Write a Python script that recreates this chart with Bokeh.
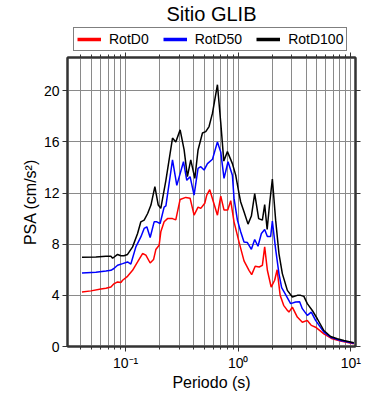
from bokeh.plotting import figure
from bokeh.layouts import column
from bokeh.models import (Range1d, LogAxis, LinearAxis, FixedTicker, CustomJSTickFormatter,
                          Legend, LegendItem)
from bokeh.embed import file_html
from bokeh.resources import INLINE

# ---- data ----
periods_d100 = [0.0410, 0.0545, 0.0669, 0.0741, 0.0767, 0.0849, 0.0908, 0.0966, 0.1041, 0.1154,
                0.1278, 0.1366, 0.1462, 0.157, 0.168, 0.182, 0.195, 0.2055, 0.228, 0.261,
                0.279, 0.305, 0.331, 0.354, 0.379, 0.412, 0.440, 0.4815, 0.515, 0.551,
                0.591, 0.654, 0.700, 0.745, 0.802, 0.888, 0.950, 1.016, 1.052, 1.126,
                1.222, 1.309, 1.401, 1.519, 1.639, 1.718, 1.807, 1.902, 2.010, 2.150,
                2.300, 2.465, 2.731, 3.024, 3.348, 3.582, 3.831, 4.107, 4.548, 5.037,
                5.763, 6.607, 7.575, 8.669, 10.63]
rotd100 = [6.98, 7.00, 7.05, 7.05, 6.90, 7.20, 7.10, 7.10, 7.20, 7.79,
           8.84, 9.75, 9.88, 10.4, 11.06, 12.5, 11.06, 10.8, 13.0, 16.3,
           16.0, 16.94, 15.37, 13.28, 14.6, 13.15, 15.37, 16.7, 16.8, 17.2,
           18.25, 20.47, 17.5, 14.5, 15.24, 14.3, 13.4, 11.98, 11.3, 10.53,
           9.57, 10.2, 11.95, 10.0, 9.88, 11.1, 9.15, 11.2, 13.1, 9.88,
           7.27, 5.7, 4.39, 3.87, 4.0, 4.0, 3.92, 3.35, 2.82, 2.17,
           1.25, 0.78, 0.6, 0.47, 0.29]

periods_d50 = [0.0410, 0.0545, 0.0669, 0.0741, 0.0788, 0.0849, 0.0941, 0.1041, 0.1114, 0.1234,
               0.1366, 0.1462, 0.1544, 0.1653, 0.1793, 0.1894, 0.2026, 0.2199, 0.228, 0.261,
               0.285, 0.3267, 0.3494, 0.3738, 0.4057, 0.440, 0.4652, 0.4976, 0.5333, 0.591,
               0.654, 0.700, 0.7483, 0.8121, 0.888, 0.918, 0.984, 1.052, 1.126, 1.207,
               1.309, 1.401, 1.498, 1.606, 1.718, 1.815, 1.941, 2.010, 2.150, 2.300,
               2.430, 2.584, 2.920, 3.234, 3.510, 3.709, 4.107, 4.456, 4.865, 5.763,
               6.607, 8.105, 10.63]
rotd50 = [5.75, 5.80, 5.90, 5.96, 6.10, 6.35, 6.48, 6.61, 6.45, 7.79,
          8.57, 9.23, 9.36, 8.52, 9.75, 9.75, 9.62, 10.9, 11.0, 14.6,
          12.6, 14.45, 13.0, 13.28, 11.84, 13.93, 14.06, 13.8, 14.3, 14.64,
          16.0, 15.2, 13.15, 14.45, 13.4, 11.58, 9.88, 8.97, 8.18, 8.13,
          7.6, 8.37, 7.84, 8.84, 9.15, 8.6, 8.6, 9.8, 7.6, 5.7,
          4.6, 4.2, 3.35, 3.48, 3.5, 2.96, 2.43, 2.69, 2.04, 1.12,
          0.73, 0.47, 0.26]

periods_d0 = [0.0410, 0.0493, 0.0604, 0.0669, 0.0741, 0.0788, 0.0849, 0.0908, 0.0941, 0.1041,
              0.1154, 0.1278, 0.1415, 0.1514, 0.1653, 0.1771, 0.1856, 0.1986, 0.2055, 0.2199,
              0.2357, 0.261, 0.279, 0.305, 0.3424, 0.3738, 0.4057, 0.440, 0.4652, 0.5047,
              0.5256, 0.5588, 0.6027, 0.654, 0.700, 0.7483, 0.807, 0.858, 0.918, 1.016,
              1.126, 1.247, 1.317, 1.415, 1.535, 1.639, 1.718, 1.815, 1.961, 2.107,
              2.216, 2.357, 2.532, 2.692, 2.821, 3.024, 3.348, 3.709, 4.107, 4.456,
              4.865, 5.763, 6.842, 8.105, 10.63]
rotd0 = [4.26, 4.35, 4.50, 4.55, 4.65, 4.90, 5.05, 5.00, 5.18, 5.49,
         5.96, 6.61, 7.27, 7.14, 6.53, 6.8, 7.58, 7.92, 8.97, 9.75,
         10.0, 10.0, 9.9, 11.5, 11.66, 11.6, 10.27, 10.9, 10.8, 11.2,
         11.84, 12.26, 11.3, 10.27, 11.76, 10.67, 10.67, 11.4, 9.75, 8.18,
         6.7, 5.96, 5.62, 6.27, 6.22, 6.35, 7.79, 5.96, 4.65, 5.18,
         6.0, 4.0, 3.22, 2.9, 2.69, 3.08, 2.3, 1.9, 2.04, 1.65,
         1.51, 0.99, 0.6, 0.42, 0.21]

series_names = ["RotD0", "RotD50", "RotD100"]
series_colors = ["#ff0000", "#0000ff", "#000000"]
x_major_ticks = [0.1, 1.0, 10.0]
y_ticks = [0, 4, 8, 12, 16, 20]
title_text = "Sitio GLIB"
x_label = "Periodo (s)"
y_label = "PSA (cm/s\u00b2)"

FONT = "Liberation Sans"
FRAME = "#333333"
GRID = "#8a8a8a"
W = 390
HEAD_H = 52
MAIN_H = 348

x_minor_ticks = [m * 10.0 ** e for e in (-2, -1, 0, 1) for m in range(1, 10)]

# ---------------- header: title + legend ----------------
head = figure(width=W, height=HEAD_H, x_range=Range1d(0, 1), y_range=Range1d(0, 1),
              x_axis_location=None, y_axis_location=None,
              output_backend="svg", toolbar_location=None,
              min_border_left=67, min_border_right=35, min_border_top=0, min_border_bottom=0)
head.outline_line_color = None
head.grid.visible = False
head.title.text = title_text
head.title.align = "center"
head.title.text_font = FONT
head.title.text_font_size = "20px"
head.title.text_font_style = "normal"
head.title.text_color = "black"
head.title.standoff = 0

items = []
for name, col in zip(series_names, series_colors):
    # legend-only renderer: a single point draws nothing
    r = head.line([0.5], [0.5], line_color=col, line_width=3.5)
    items.append(LegendItem(label=name, renderers=[r]))

legend = Legend(items=items, orientation="horizontal", location=(6, 1),
                glyph_width=24, glyph_height=14, label_height=15, label_standoff=8,
                spacing=14, padding=3, margin=0,
                border_line_color="black", border_line_width=1.5,
                background_fill_color="white", background_fill_alpha=1.0,
                label_text_font=FONT, label_text_font_size="14px", label_text_color="black")
head.add_layout(legend, "center")

# ---------------- main plot ----------------
p = figure(width=W, height=MAIN_H, x_axis_type="log",
           x_range=Range1d(0.0305, 11.0), y_range=Range1d(0, 22.6),
           output_backend="svg", toolbar_location=None,
           min_border_left=67, min_border_right=35, min_border_bottom=54, min_border_top=5)

p.outline_line_color = FRAME
p.outline_line_width = 2

xticker = FixedTicker(ticks=x_major_ticks, minor_ticks=x_minor_ticks)
yticker = FixedTicker(ticks=y_ticks, minor_ticks=[])

fmt = CustomJSTickFormatter(code="""
const e = Math.round(Math.log10(tick));
const sup = {'-':'\u207b','0':'\u2070','1':'\u00b9','2':'\u00b2','3':'\u00b3'};
return '10' + String(e).split('').map(c => sup[c]).join('');
""")
blank = CustomJSTickFormatter(code="return '';")

def style_axis(ax, labels=True):
    ax.axis_line_color = FRAME
    ax.axis_line_width = 2
    ax.major_tick_line_color = FRAME
    ax.minor_tick_line_color = FRAME
    ax.major_tick_in = 0
    ax.minor_tick_in = 0
    ax.major_tick_out = 5
    ax.minor_tick_out = 3
    ax.major_label_text_font = FONT
    ax.major_label_text_color = "black"
    ax.major_label_text_font_size = "14px"
    ax.major_label_standoff = 3 if labels else 0

xa = p.xaxis[0]
xa.ticker = xticker
xa.formatter = fmt
style_axis(xa)
xa.axis_label = x_label
xa.axis_label_text_font = FONT
xa.axis_label_text_font_size = "16px"
xa.axis_label_text_font_style = "normal"
xa.axis_label_text_color = "black"
xa.axis_label_standoff = 0

ya = p.yaxis[0]
ya.ticker = yticker
style_axis(ya)
ya.minor_tick_out = 0
ya.axis_label = y_label
ya.axis_label_text_font = FONT
ya.axis_label_text_font_size = "16px"
ya.axis_label_text_font_style = "normal"
ya.axis_label_text_color = "black"
ya.axis_label_standoff = 2

top_ax = LogAxis(ticker=xticker, formatter=blank)
style_axis(top_ax, labels=False)
p.add_layout(top_ax, "above")

right_ax = LinearAxis(ticker=yticker, formatter=blank)
style_axis(right_ax, labels=False)
right_ax.minor_tick_out = 0
p.add_layout(right_ax, "right")

p.xgrid.ticker = xticker
p.xgrid.grid_line_color = GRID
p.xgrid.grid_line_width = 1
p.xgrid.minor_grid_line_color = GRID
p.xgrid.minor_grid_line_width = 1
p.ygrid.ticker = yticker
p.ygrid.grid_line_color = GRID
p.ygrid.grid_line_width = 1

data = [(periods_d0, rotd0), (periods_d50, rotd50), (periods_d100, rotd100)]
for (xs, ys), col in zip(data, series_colors):
    p.line(xs, ys, line_color=col, line_width=1.5)

layout = column(head, p, spacing=0)
open("out.html", "w").write(file_html(layout, INLINE))
